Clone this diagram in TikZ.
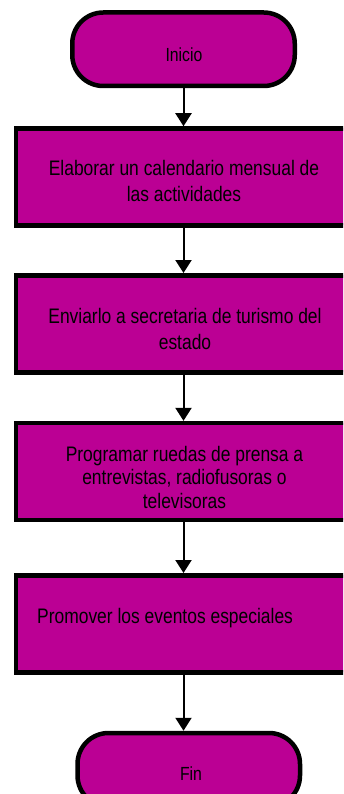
\documentclass[tikz,border=0pt]{standalone}
\usepackage{fontspec}
\setmainfont[FakeStretch=0.83]{Liberation Sans}
\usetikzlibrary{arrows.meta}
\definecolor{mag}{RGB}{187,0,148}
\tikzset{
  procbox/.style={rectangle, draw=black, line width=4.5pt, fill=mag,
    minimum width=335pt, minimum height=97pt, inner sep=0pt},
  term/.style={rectangle, draw=black, line width=4.5pt, fill=mag,
    minimum width=222.5pt, minimum height=73.5pt, inner sep=0pt, rounded corners=31pt},
  arr/.style={line width=2pt, -{Triangle[width=16pt,length=13pt]}},
  boxtxt/.style={inner sep=0pt, anchor=base, text=black, font=\fontsize{21}{26}\selectfont},
  termtxt/.style={inner sep=0pt, anchor=base, text=black, font=\fontsize{19}{23}\selectfont},
}
\begin{document}
\begin{tikzpicture}[x=1pt,y=-1pt]
\useasboundingbox (0,0) rectangle (343,794);
\clip (0,0) rectangle (343,794);
% shapes
\node[term] (ini) at (183.5,49.25) {};
\node[procbox] (b1) at (183.5,177) {};
\node[procbox] (b2) at (183.5,323.75) {};
\node[procbox] (b3) at (183.5,471.6) {};
\node[procbox] (b4) at (183.5,623.75) {};
\node[term] (fin) at (188.75,769.75) {};
% texts
\node[termtxt] (tini) at (184,61.7) {Inicio};
\node[boxtxt] (t1) at (184,176) {\parbox[t]{320pt}{\centering Elaborar un calendario mensual de\\ las actividades}};
\node[boxtxt] (t2) at (185,323.3) {\parbox[t]{320pt}{\centering Enviarlo a secretaria de turismo del\\ estado}};
\node[boxtxt, font=\fontsize{21}{23.5}\selectfont] (t3) at (184.5,461) {\parbox[t]{320pt}{\centering Programar ruedas de prensa a\\ entrevistas, radiofusoras o\\ televisoras}};
\node[boxtxt, anchor=base west] (t4) at (37,623.3) {Promover los eventos especiales};
\node[termtxt] (tfin) at (191,780) {Fin};
% connectors
\draw[arr] (ini.south) -- (b1.north);
\draw[arr] (b1.south) -- (b2.north);
\draw[arr] (b2.south) -- (b3.north);
\draw[arr] (b3.south) -- (b4.north);
\draw[arr] (b4.south) -- (b4.south |- fin.north);
\end{tikzpicture}
\end{document}
